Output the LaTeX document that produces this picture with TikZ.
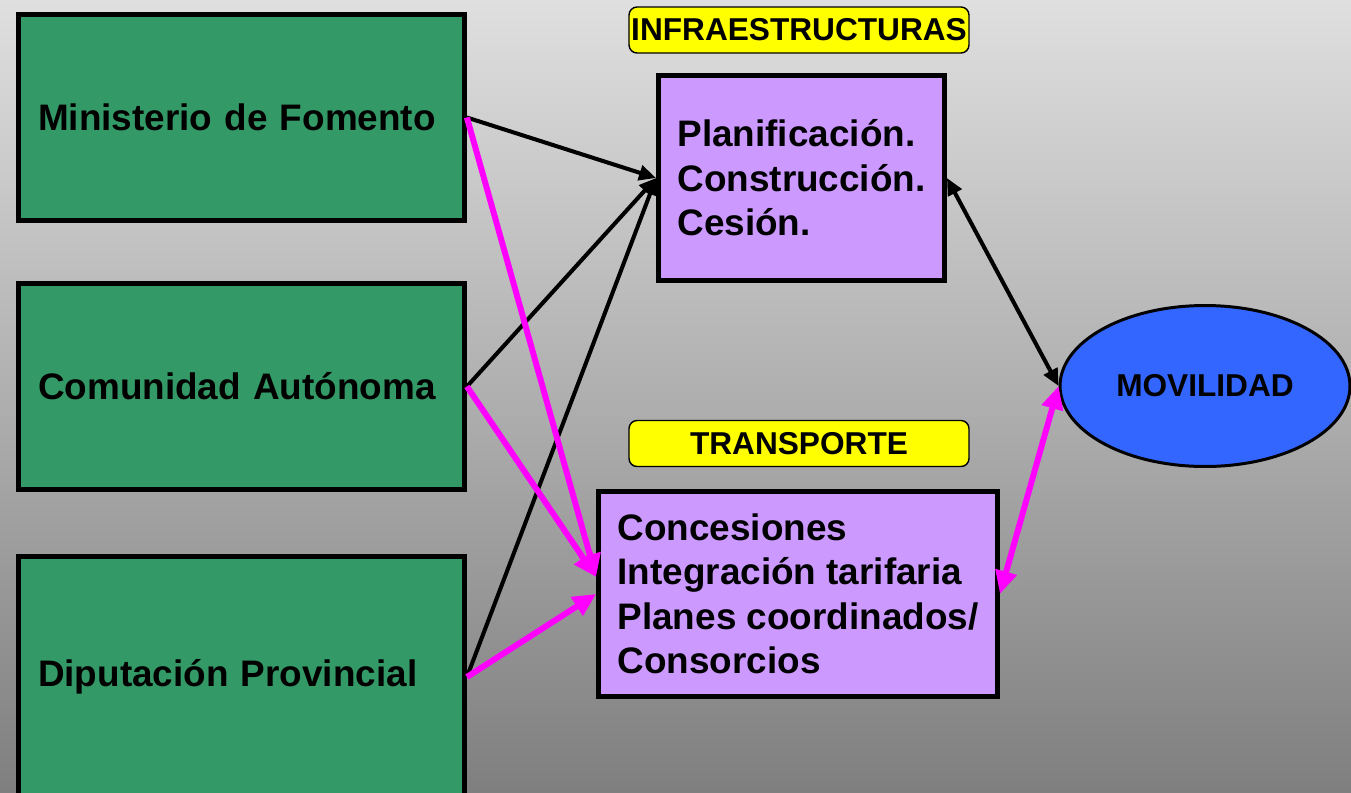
\documentclass[tikz,border=0pt]{standalone}
\usepackage{fontspec}
\setmainfont{Liberation Sans}
\usetikzlibrary{arrows.meta,shapes.geometric}
\definecolor{organogreen}{HTML}{339966}
\definecolor{lila}{HTML}{CC99FF}
\definecolor{movblue}{HTML}{3366FF}
\definecolor{rosa}{HTML}{FF00FF}
\definecolor{amarillo}{HTML}{FFFF00}
\definecolor{bgtop}{HTML}{DFDFDF}
\definecolor{bgbottom}{HTML}{7F7F7F}

\begin{document}
\begin{tikzpicture}[x=0.02cm, y=-0.02cm]
\tikzstyle{organismo}=[draw, line width=2.8pt, fill=organogreen, inner xsep=0.39cm, text width=8.14cm, align=left, font=\fontsize{21}{25}\selectfont\bfseries];
\tikzstyle{competencia}=[draw, line width=2.8pt, fill=lila, minimum height=4.1cm, align=left, font=\fontsize{21}{25.3}\selectfont\bfseries];
\tikzstyle{etiqueta}=[draw, line width=0.8pt, fill=amarillo, rounded corners=0.16cm, minimum width=6.8cm, minimum height=0.92cm, inner sep=0pt, font=\fontsize{18}{20}\selectfont\bfseries];
\tikzstyle{negra}=[>={Triangle[length=0.34cm, width=0.3cm]}, line width=2.3pt];
\tikzstyle{magenta}=[rosa, >={Triangle[length=0.46cm, width=0.42cm]}, line width=3.4pt];

\path[use as bounding box] (0, 0) rectangle (1351, 792);
\clip (0, 0) rectangle (1351, 792);
\shade[top color=bgtop, bottom color=bgbottom] (0, 0) rectangle (1351, 792);

\node[organismo, minimum height=4.12cm] (fomento) at (241.5, 117.5) {Ministerio de Fomento};
\node[organismo, minimum height=4.12cm] (comunidad) at (241.5, 386.5) {Comunidad Autónoma};
\node[organismo, minimum height=4.82cm] (diputacion) at (241.5, 677) {Diputación Provincial};

\node[etiqueta] (tinfra) at (799, 30) {INFRAESTRUCTURAS};
\node[competencia, minimum width=5.72cm] (infra) at (801.5, 178) {Planificación.\\Construcción.\\Cesión.};

\node[etiqueta] (ttransp) at (799, 443.5) {TRANSPORTE};
\node[competencia, minimum width=7.98cm] (transporte) at (798, 594) {Concesiones\\Integración tarifaria\\Planes coordinados/\\Consorcios};

\node[ellipse, draw, line width=1.7pt, fill=movblue, minimum width=5.8cm, minimum height=3.22cm, inner sep=0pt, font=\fontsize{18}{20}\selectfont\bfseries] (movilidad) at (1205, 386) {MOVILIDAD};

\draw[negra, ->] (fomento.east) -- (infra.west);
\draw[negra, ->] (comunidad.east) -- (infra.west);
\draw[negra, ->] (diputacion.east) -- (infra.west);
\draw[negra, <->] (infra.east) -- (movilidad.west);

\draw[magenta, ->] (fomento.east) -- ([yshift=0.34cm]transporte.west);
\draw[magenta, ->] (comunidad.east) -- ([yshift=0.34cm]transporte.west);
\draw[magenta, ->] (diputacion.east) -- (transporte.west);
\draw[magenta, <->] (transporte.east) -- (movilidad.west);
\end{tikzpicture}
\end{document}
